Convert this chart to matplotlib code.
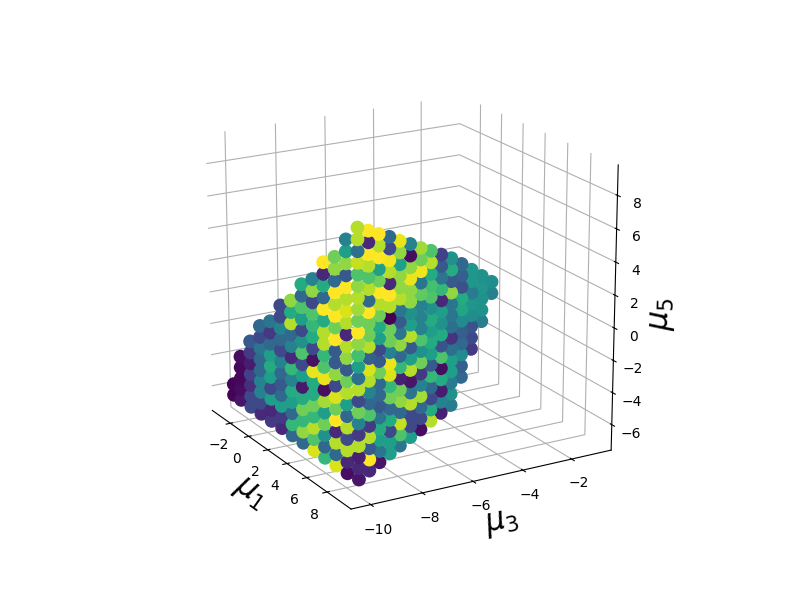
import numpy as np
import matplotlib.pyplot as plt

# Visible points, one vertical column at a time (top to bottom)
col_mu1 = [-3.25, -2.45, -1.36, -0.28, 0.81, 1.90, 2.99, 4.08, 5.17, 6.25, 7.35, 8.43, 9.52,
           9.52, 9.52, 9.52, 9.52, 9.52, 9.52, 9.52, 9.52, 9.52, 9.52, 9.52, 9.52, 9.52]
col_mu3 = [-10.13, -10.13, -10.13, -10.13, -10.13, -10.13, -10.13, -10.13, -10.13, -10.13, -10.13, -10.13, -10.13,
           -9.73, -9.34, -8.94, -8.55, -8.15, -7.75, -7.36, -6.96, -6.57, -6.17, -5.78, -5.38, -4.99]

front_levels = [7.38, 6.69, 6.00, 5.30, 4.61, 3.92, 3.22, 2.53, 1.84, 1.14, 0.45, -0.24, -0.94, -1.63,
                -2.32, -3.02, -3.71, -4.40, -5.09, -5.79, -6.48]

col_mu5 = [
    front_levels[-2:],
    front_levels[-5:],
    front_levels[-7:],
    front_levels[-9:],
    front_levels[-10:],
    front_levels[-12:],
    front_levels[-13:],
    front_levels[-15:],
    front_levels[-16:],
    front_levels[-18:],
    front_levels[-19:],
    front_levels[-21:],
    [8.43, 7.76, 7.08, 6.41, 5.74, 5.07, 4.39, 3.72, 3.05, 2.37, 1.70, 1.03, 0.35, -0.32, -0.99, -1.67, -2.34, -3.01, -3.68, -4.36, -5.03, -5.70, -6.38],
    [8.15, 7.48, 6.80, 6.13, 5.46, 4.78, 4.11, 3.44, 2.77, 2.09, 1.42, 0.75, 0.08, -0.60, -1.27, -1.94, -2.62, -3.29, -3.96, -4.63, -5.31, -5.98],
    [7.85, 7.18, 6.50, 5.83, 5.16, 4.49, 3.81, 3.14, 2.47, 1.79, 1.12, 0.45, -0.22, -0.90, -1.57, -2.24, -2.91, -3.59, -4.26, -4.93, -5.61],
    [7.58, 6.91, 6.23, 5.56, 4.89, 4.22, 3.54, 2.87, 2.20, 1.52, 0.85, 0.18, -0.49, -1.17, -1.84, -2.51, -3.19, -3.86, -4.53, -5.21],
    [7.24, 6.57, 5.89, 5.22, 4.55, 3.88, 3.20, 2.53, 1.86, 1.18, 0.51, -0.16, -0.83, -1.51, -2.18, -2.85, -3.53, -4.20, -4.87],
    [6.95, 6.28, 5.60, 4.93, 4.26, 3.59, 2.91, 2.24, 1.57, 0.89, 0.22, -0.45, -1.13, -1.80, -2.47, -3.14, -3.82, -4.49],
    [6.61, 5.94, 5.26, 4.59, 3.92, 3.25, 2.57, 1.90, 1.23, 0.55, -0.12, -0.79, -1.47, -2.14, -2.81, -3.48, -4.16],
    [6.34, 5.67, 4.99, 4.32, 3.65, 2.98, 2.30, 1.63, 0.96, 0.28, -0.39, -1.06, -1.74, -2.41, -3.08, -3.76],
    [6.01, 5.34, 4.66, 3.99, 3.32, 2.65, 1.97, 1.30, 0.63, -0.05, -0.72, -1.39, -2.07, -2.74, -3.41],
    [5.69, 5.02, 4.34, 3.67, 3.00, 2.33, 1.65, 0.98, 0.31, -0.37, -1.04, -1.71, -2.39, -3.06],
    [5.24, 4.57, 3.89, 3.22, 2.55, 1.88, 1.20, 0.53, -0.14, -0.82, -1.49],
    [4.79, 4.12, 3.44, 2.77, 2.10, 1.43, 0.75, 0.08],
    [4.31, 3.64, 2.96, 2.29, 1.62],
    [3.85, 3.18],
]

# colour value of each point, on a 0-9 scale
col_vals = [
    [0.1, 0.1],
    [0.3, 0.2, 0.2, 0.3, 0.5],
    [2.5, 1.5, 0.7, 1.7, 1.2, 2, 2],
    [3, 2, 3.5, 3, 3, 4, 4, 2, 1],
    [3.5, 1.5, 3, 5, 5.5, 5, 2, 5, 1, 1.5],
    [2, 2, 4, 3, 2, 4, 3, 2.5, 3, 5, 1.5, 1],
    [7.5, 5.5, 8, 3, 4, 1, 6, 4, 5.5, 5, 3, 6, 3],
    [5.5, 3, 6.5, 5, 2, 4.5, 6.5, 2, 5, 0.6, 5.5, 7, 6, 7.5, 3],
    [4, 7.5, 2, 6.5, 6, 5.5, 2, 0.4, 8.7, 5.5, 5.5, 7, 6, 8, 6.5, 8.5],
    [9, 1, 5.5, 3, 9, 5.5, 8, 8, 6, 6.5, 8.7, 0.3, 7.8, 5, 7, 4.5, 3, 6],
    [7, 7.5, 3, 9, 8, 9, 7, 9, 2.5, 2.5, 7.5, 2, 8.5, 7, 9, 1, 8, 3, 8.5],
    [4, 5, 7.5, 2.5, 9, 8, 8.5, 8, 1, 8, 7.5, 2.5, 7, 8, 5, 3, 8, 2, 8, 1, 0.3],
    [8, 8, 3.3, 8.2, 6.5, 7.5, 8, 7.7, 7, 9, 7.5, 6.3, 5, 3.3, 8, 2, 7, 4, 1.5, 8, 0.8, 1, 0.5],
    [9, 1, 9, 8, 6.5, 8, 3, 9, 7, 7, 8, 2.7, 8.5, 8, 4, 3, 6.5, 1.5, 8, 2.5, 9, 1],
    [9, 8, 9, 5, 7, 9, 8, 7, 5.5, 5, 2, 2.5, 7, 3, 3, 2.5, 3.5, 5.5, 5, 3.5, 0.5],
    [3, 2, 8.8, 8, 1, 9, 8, 0, 7, 7, 4, 8.7, 8.5, 6, 7, 3, 5.5, 2, 5, 5],
    [8.7, 7.5, 5, 7.5, 7.5, 8, 3.5, 2.5, 3.5, 7.5, 3, 6, 0.8, 7, 7.5, 3, 8.2, 6.5, 3.5],
    [4, 0.3, 7.5, 8.7, 7.5, 7.5, 4.5, 5, 8, 2.5, 5, 8, 0.5, 3.5, 8, 2, 2, 5],
    [7.7, 7, 8.8, 3.5, 6.8, 4, 4, 4, 6.5, 4.5, 7, 1.5, 4, 7.8, 3, 2, 0.3],
    [6.5, 8, 5.5, 6.3, 6.5, 4.5, 5.5, 5, 5.5, 5, 2.5, 6, 3, 2, 5.5, 8],
    [1.7, 2.5, 3.5, 6, 1, 5, 4.5, 5.5, 2.3, 6.5, 0.3, 5.5, 0.7, 4, 0.8],
    [4.5, 5.5, 2.5, 7.5, 3.5, 3.5, 3.3, 1.3, 3.3, 5, 5, 3.7, 4.5, 3.7],
    [3, 2.7, 2.2, 5.5, 5.3, 4.3, 2.7, 3, 4.3, 2.7, 3],
    [4.8, 4.8, 3.7, 4.7, 4.4, 2.3, 2, 1.5],
    [4.5, 4.7, 4.6, 4.6, 3.8],
    [4.4, 3.9],
]

mu1_ticks = [-2, 0, 2, 4, 6, 8]

mu1, mu3, mu5, vals = [], [], [], []
for x, y, zs, cs in zip(col_mu1, col_mu3, col_mu5, col_vals):
    for z, c in zip(zs, cs):
        mu1.append(x)
        mu3.append(y)
        mu5.append(z)
        vals.append(c)

fig = plt.figure(figsize=(8, 6), dpi=100)
ax = fig.add_subplot(projection='3d')
ax.set_position([0.115, 0.118, 0.775, 0.77])
ax.scatter(mu1, mu3, mu5, c=vals, cmap='viridis', vmin=0, vmax=9, s=80, depthshade=False, alpha=1)
ax.view_init(elev=19, azim=-30)
ax.set_proj_type('persp', focal_length=1.15)
ax.set_box_aspect((1, 1, 1), zoom=1.08)
ax.set_xlim(-4, 10.3)
ax.set_ylim(-10.75, -0.35)
ax.set_zlim(-7.6, 9.8)
ax.set_xticks(mu1_ticks)
ax.xaxis.set_pane_color((1, 1, 1, 0))
ax.yaxis.set_pane_color((1, 1, 1, 0))
ax.zaxis.set_pane_color((1, 1, 1, 0))
ax.tick_params(pad=0)
ax.set_xlabel(r'$\mu_1$', fontsize=22, labelpad=-2)
ax.set_ylabel(r'$\mu_3$', fontsize=22, labelpad=-1)
ax.set_zlabel(r'$\mu_5$', fontsize=22, labelpad=-1)
plt.savefig('out.png')
plt.close()
